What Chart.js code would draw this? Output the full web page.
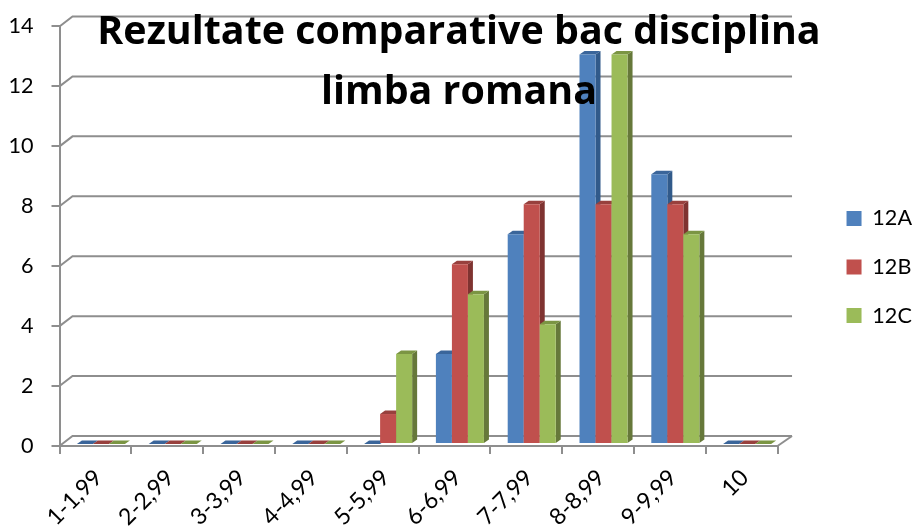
<!DOCTYPE html>
<html>
<head>
<meta charset="utf-8">
<title>Rezultate comparative bac</title>
<script src="https://cdn.jsdelivr.net/npm/chart.js@4/dist/chart.umd.min.js"></script>
<style>
  html, body { margin: 0; padding: 0; background: #fff; }
  canvas { display: block; }
</style>
</head>
<body>
<canvas id="chart1" width="913" height="527"></canvas>
<script>
const categories = ['1-1,99', '2-2,99', '3-3,99', '4-4,99', '5-5,99', '6-6,99', '7-7,99', '8-8,99', '9-9,99', '10'];
const clasa12A = [0, 0, 0, 0, 0, 3, 7, 13, 9, 0];
const clasa12B = [0, 0, 0, 0, 1, 6, 8, 8, 8, 0];
const clasa12C = [0, 0, 0, 0, 3, 5, 4, 13, 7, 0];

const gray = '#8e8e8e';
const fontName = 'Lato';
// darker shades for the fake 3d faces of each series
const faces = [
  { top: '#3a659a', side: '#315a8a' },
  { top: '#98403d', side: '#7f3331' },
  { top: '#7b9543', side: '#66783a' }
];

// old excel style 3d: back wall gridlines + bar depth
const depth3d = {
  id: 'depth3d',
  beforeInit(chart) {
    // title goes over the bars like in the original
    const title = chart.titleBlock;
    title._layers = () => [{ z: 10, draw(area) { title.draw(area); } }];
  },
  beforeDatasetsDraw(chart) {
    const ctx = chart.ctx;
    const y = chart.scales.y;
    const a = chart.chartArea;
    ctx.save();
    ctx.strokeStyle = gray;
    ctx.lineWidth = 2;
    y.ticks.forEach(t => {
      const py = y.getPixelForValue(t.value);
      ctx.beginPath();
      ctx.moveTo(a.left, py);
      ctx.lineTo(a.left + 13, py - 10);
      ctx.lineTo(a.right + 14.5, py - 10);
      ctx.stroke();
    });
    ctx.beginPath();
    ctx.moveTo(a.right, a.bottom);
    ctx.lineTo(a.right + 14.5, a.bottom - 10);
    ctx.stroke();
    ctx.restore();
  },
  // default drawing goes last dataset first, here 12A has to be at the back
  beforeDatasetDraw() {
    return false;
  },
  afterDatasetsDraw(chart) {
    const ctx = chart.ctx;
    const dx = 5, dy = 3.5;
    ctx.save();
    ctx.translate(5.5, -2);
    chart.getSortedVisibleDatasetMetas().forEach(meta => {
      const f = faces[meta.index];
      meta.data.forEach(bar => {
        const l = bar.x - bar.width / 2, r = bar.x + bar.width / 2;
        ctx.fillStyle = f.side;
        ctx.beginPath();
        ctx.moveTo(r, bar.y);
        ctx.lineTo(r + dx, bar.y - dy);
        ctx.lineTo(r + dx, bar.base - dy);
        ctx.lineTo(r, bar.base);
        ctx.fill();
        ctx.fillStyle = f.top;
        ctx.beginPath();
        ctx.moveTo(l, bar.y);
        ctx.lineTo(l + dx, bar.y - dy);
        ctx.lineTo(r + dx, bar.y - dy);
        ctx.lineTo(r, bar.y);
        ctx.fill();
      });
      meta.controller.draw();
    });
    ctx.restore();
  }
};

const chart1 = new Chart(document.getElementById('chart1'), {
  type: 'bar',
  plugins: [depth3d],
  data: {
    labels: categories,
    datasets: [
      { label: '12A', data: clasa12A, backgroundColor: '#4f81bd' },
      { label: '12B', data: clasa12B, backgroundColor: '#c0504d' },
      { label: '12C', data: clasa12C, backgroundColor: '#9bbb59' }
    ]
  },
  options: {
    responsive: false,
    animation: false,
    layout: { padding: { left: -4, top: 3.5, right: -9, bottom: -3.5 } },
    datasets: { bar: { barPercentage: 1, categoryPercentage: 0.669 } },
    plugins: {
      tooltip: { enabled: false },
      title: {
        display: true,
        text: ['Rezultate comparative bac disciplina', 'limba romana'],
        color: '#000',
        font: { family: 'Open Sans', size: 39.4, weight: 'bold', lineHeight: 1.52 },
        padding: { top: -0.5, bottom: -96.3 }
      },
      legend: {
        position: 'right',
        labels: {
          color: '#000',
          font: { family: fontName, size: 21.6 },
          boxWidth: 15,
          boxHeight: 15,
          padding: 27
        }
      }
    },
    scales: {
      x: {
        border: { color: gray, width: 2 },
        grid: { drawOnChartArea: false, color: gray, lineWidth: 2, tickLength: 8 },
        ticks: { color: '#000', font: { family: fontName, size: 23 }, autoSkip: false, minRotation: 45, maxRotation: 45, padding: 10, labelOffset: 3 },
        afterFit(s) { s.height = 84.5; }
      },
      y: {
        min: 0,
        max: 14,
        border: { color: gray, width: 2 },
        grid: { drawOnChartArea: false, color: gray, lineWidth: 2, tickLength: 8 },
        ticks: { stepSize: 2, color: '#000', font: { family: fontName, size: 21.6 }, padding: 18 },
        // tick padding also pushes the plot top down, drop that
        afterFit(s) { s.width = 63.5; s.paddingTop = 0; s.paddingBottom = 0; }
      },
      // only reserves the empty strip before the legend
      spacer: {
        position: 'right',
        grid: { display: false },
        border: { display: false },
        ticks: { display: false },
        afterFit(s) { s.width = 42; }
      }
    }
  }
});
</script>
</body>
</html>
